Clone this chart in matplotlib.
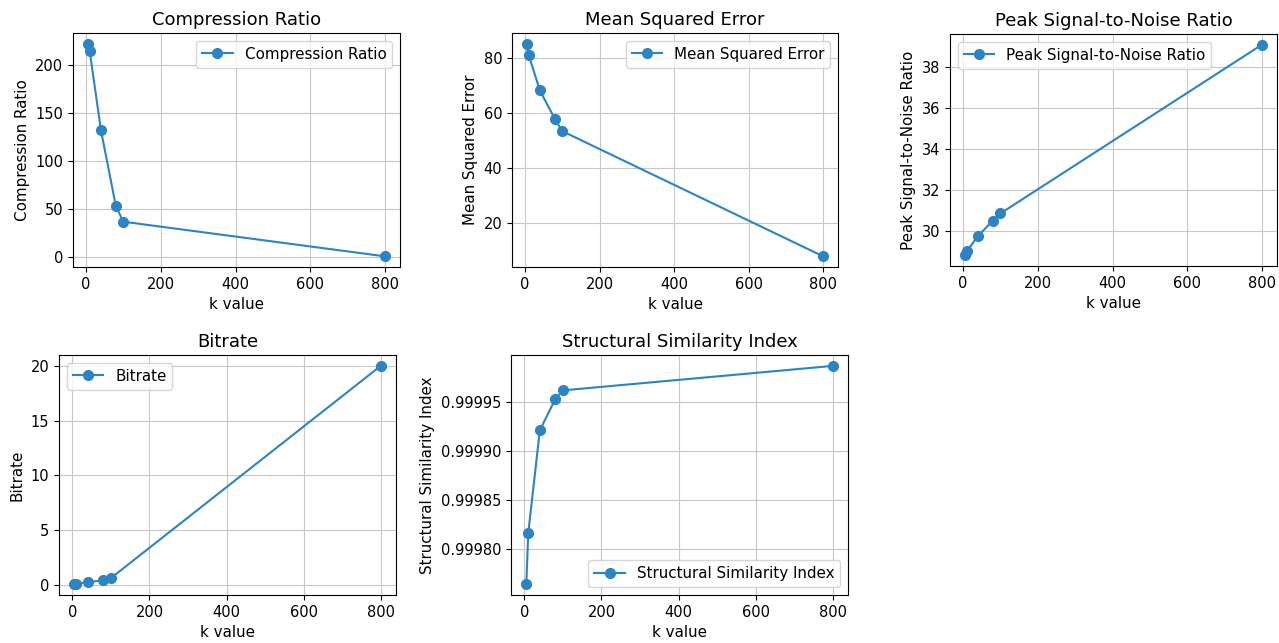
import matplotlib
matplotlib.use("Agg")
import matplotlib.pyplot as plt

# valeurs
k_values = [5, 10, 40, 80, 100, 800]
compression_ratio = [222, 214, 132, 53, 37, 1]
mean_squared_error = [85.3, 81.2, 68.3, 58.0, 53.5, 8.0]
psnr = [28.8, 29.0, 29.75, 30.5, 30.85, 39.1]
bitrate = [0.05, 0.1, 0.2, 0.42, 0.6, 20.0]
ssim = [0.999764, 0.999816, 0.999921, 0.999953, 0.999962, 0.999987]

metrics = [
    ("Compression Ratio", compression_ratio),
    ("Mean Squared Error", mean_squared_error),
    ("Peak Signal-to-Noise Ratio", psnr),
    ("Bitrate", bitrate),
    ("Structural Similarity Index", ssim),
]

plt.rcParams.update({
    "font.size": 10.9,
    "xtick.labelsize": 10.5,
    "ytick.labelsize": 10.5,
    "axes.titlesize": 13,
})

W, H = 1279, 643
fig = plt.figure(figsize=(W / 100, H / 100), dpi=100)

# positions en pixels : gauche, haut, droite, bas
boxes = [
    (73, 33, 400, 267),
    (512, 33, 838, 267),
    (950, 34, 1277, 266),
    (59, 355, 396, 595),
    (511, 355, 848, 595),
]

for (name, values), (x0, y0, x1, y1) in zip(metrics, boxes):
    ax = fig.add_axes([x0 / W, (H - y1) / H, (x1 - x0) / W, (y1 - y0) / H])
    ax.plot(k_values, values, marker="o", markersize=7, color="#2b84c4", label=name)
    ax.set_title(name)
    ax.set_xlabel("k value")
    ax.set_ylabel(name)
    ax.set_xticks([0, 200, 400, 600, 800])
    ax.grid(True, color="#c8c8c8")
    ax.legend()
    if name == "Structural Similarity Index":
        ax.ticklabel_format(axis="y", useOffset=False)

fig.savefig("out.png", dpi=100)
